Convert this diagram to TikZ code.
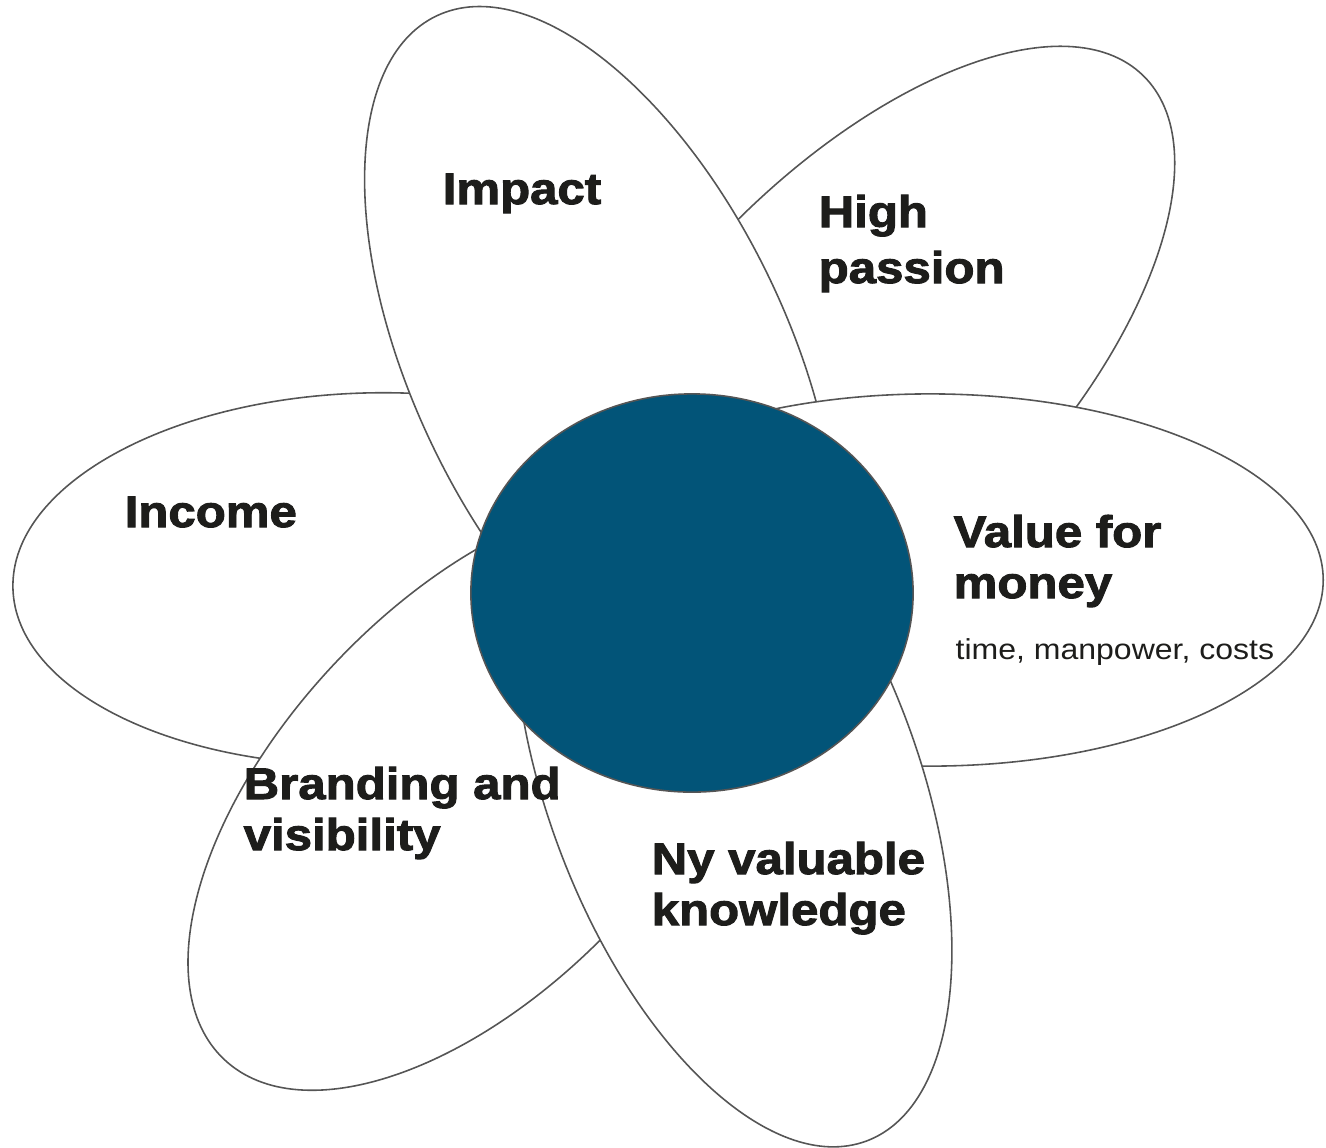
\documentclass[tikz,border=0pt]{standalone}
\usepackage{fontspec}
\usepackage{tikz}
\usetikzlibrary{shapes.geometric}
\newfontfamily\petalfont[FakeStretch=1.11,BoldFeatures={FakeBold=2.2}]{Liberation Sans}
\definecolor{flowerline}{HTML}{555555}
\definecolor{flowercore}{HTML}{025478}
\definecolor{labelink}{HTML}{1D1D1B}

\begin{document}
\begin{tikzpicture}[
  x=0.01cm, y=-0.01cm,
  petal/.style n args={3}{
    ellipse,
    draw=flowerline,
    fill=white,
    line width=0.45pt,
    inner sep=0pt,
    minimum width=#1,
    minimum height=#2,
    rotate=#3
  },
  heading/.style={
    anchor=base west,
    inner sep=0pt,
    align=left,
    text=labelink,
    font=\petalfont\bfseries\fontsize{12.6}{14.5}\selectfont
  },
  note/.style={
    anchor=base west,
    inner sep=0pt,
    text=labelink,
    font=\petalfont\fontsize{8.2}{10}\selectfont
  }
]
  \useasboundingbox (0,0) rectangle (1326,1147);

  % petals, back to front
  \node[petal={7.14cm}{3.72cm}{1.5}] (income) at (370,579) {};
  \node[petal={8.08cm}{3.82cm}{46}] (passion) at (862,366) {};
  \node[petal={7.66cm}{3.76cm}{115.4}] (impact) at (601,362) {};
  \node[petal={7.30cm}{3.83cm}{46.6}] (branding) at (475,794) {};
  \node[petal={7.86cm}{3.72cm}{0}] (value) at (930,580) {};
  \node[petal={7.60cm}{3.70cm}{110.6}] (knowledge) at (733,785) {};

  \node[ellipse, draw=flowerline, fill=flowercore, line width=0.45pt,
        inner sep=0pt, minimum width=4.42cm, minimum height=3.98cm] (core) at (692,593) {};

  % labels (base = last line)
  \node[heading] (impactlbl) at (442,204) {Impact};
  \node[heading] (passionlbl) at (818,283) {High\\[1.4pt]passion};
  \node[heading] (incomelbl) at (124,527) {Income};
  \node[heading] (valuelbl) at (953,598) {Value for\\money};
  \node[note] (valuenote) at (955,659) {time, manpower, costs};
  \node[heading] (brandinglbl) at (243,850) {Branding and\\visibility};
  \node[heading] (knowledgelbl) at (651,925) {Ny valuable\\knowledge};
\end{tikzpicture}
\end{document}
